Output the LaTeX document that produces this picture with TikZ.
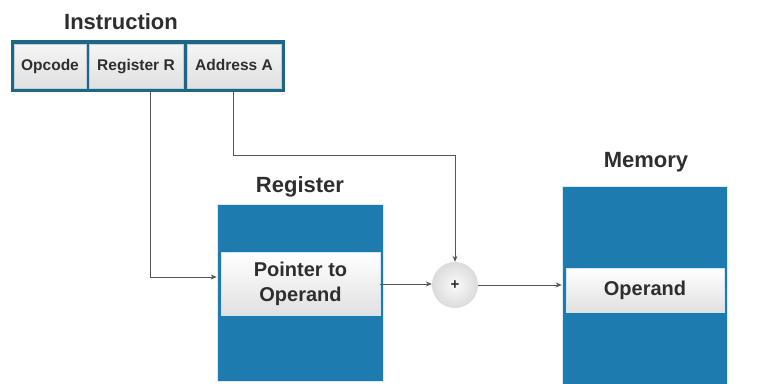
\documentclass[tikz,border=0pt]{standalone}
\usepackage{fontspec}
\setmainfont{Liberation Sans}
\usetikzlibrary{arrows.meta,shadings}
\definecolor{blk}{HTML}{1E7BB0}
\definecolor{tealb}{HTML}{1F6586}
\definecolor{txt}{HTML}{2E2E2E}
\definecolor{lne}{HTML}{555555}
\tikzset{
  title/.style={font=\bfseries\fontsize{22}{26}\selectfont, text=txt},
  cell/.style={draw=white!70!tealb, line width=0.8pt, top color=white!92!gray, bottom color=white!76!gray,
    minimum height=44pt, inner sep=0pt, text height=11pt, text depth=3pt,
    font=\bfseries\fontsize{15.5}{18}\selectfont, text=txt},
  bigbox/.style={fill=blk, draw=white!85!blk, line width=0.6pt, inner sep=0pt},
  inbox/.style={top color=white, bottom color=white!76!gray, draw=white!80!blk, line width=0.6pt,
    inner sep=0pt, align=center, font=\bfseries\fontsize{20}{25}\selectfont, text=txt},
  conn/.style={draw=lne, line width=0.9pt, -{Stealth[length=6pt,width=5pt]}},
}
\begin{document}
\begin{tikzpicture}[x=1pt,y=-1pt]
\useasboundingbox (0,0) rectangle (784,383);
\fill[white] (0,0) rectangle (784,383);
% Instruction
\node[title] (instrT) at (121,22) {Instruction};
\node[fill=tealb, minimum width=274pt, minimum height=52pt, inner sep=0pt] (instr) at (148,65.5) {};
\node[cell, minimum width=72pt] (opc) at (50,66) {Opcode};
\node[cell, minimum width=94pt] (regR) at (136,66) {Register R};
\node[cell, minimum width=94pt] (addrA) at (234,66) {Address A};
% Register
\node[title] (regT) at (300,187) {Register};
\node[bigbox, minimum width=166pt, minimum height=177pt] (reg) at (300,292.5) {};
\node[inbox, minimum width=159pt, minimum height=63pt] (regin) at (300.5,284) {Pointer to\\Operand};
% plus
\node[circle, minimum size=46pt, inner sep=0pt, inner color=white!96!gray, outer color=white!72!gray,
  font=\bfseries\fontsize{15}{16}\selectfont, text=txt] (plus) at (455,285) {+};
% Memory
\node[title] (memT) at (646,162) {Memory};
\node[bigbox, minimum width=165pt, minimum height=210pt] (mem) at (644.5,291) {};
\node[inbox, minimum width=158pt, minimum height=44pt] (memin) at (645,290) {Operand};
% connectors
\draw[conn] ([xshift=14pt]instr.south -| regR.south) |- ([yshift=15.5pt]reg.west);
\draw[conn] ([xshift=-1pt]instr.south -| addrA.south) -- ([xshift=-1pt]addrA.south |- 0,155) -| (plus.north);
\draw[conn] (regin.east) -- (plus.west |- regin.east);
\draw[conn] (plus.east) -- (mem.west |- plus.east);
\end{tikzpicture}
\end{document}
